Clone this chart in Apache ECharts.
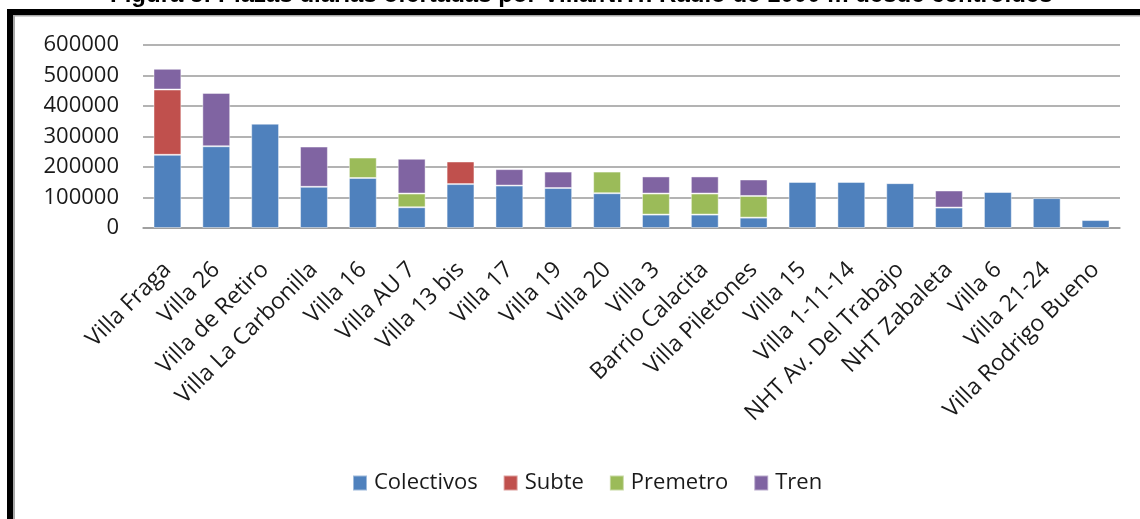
<!DOCTYPE html>
<html>
<head>
<meta charset="utf-8">
<script src="https://cdn.jsdelivr.net/npm/echarts@6/dist/echarts.min.js"></script>
<style>
  html, body { margin: 0; padding: 0; background: #fff; }
  #chart { width: 1140px; height: 519px; }
</style>
</head>
<body>
<div id="chart"></div>
<script>
const titleText = "Figura 5: Plazas diarias ofertadas por Villa/NHT. Radio de 1000 m desde centroides";

const categories = [
  "Villa Fraga", "Villa 26", "Villa de Retiro", "Villa La Carbonilla", "Villa 16",
  "Villa AU 7", "Villa 13 bis", "Villa 17", "Villa 19", "Villa 20",
  "Villa 3", "Barrio Calacita", "Villa Piletones", "Villa 15", "Villa 1-11-14",
  "NHT Av. Del Trabajo", "NHT Zabaleta", "Villa 6", "Villa 21-24", "Villa Rodrigo Bueno"
];

const colectivos = [240000, 268000, 342000, 135000, 164000, 68000, 144000, 139000, 131000, 114000,
  44000, 44000, 34000, 151000, 151000, 147000, 67000, 118000, 98000, 26000];
const subte = [214000, null, null, null, null, null, 74000, null, null, null,
  null, null, null, null, null, null, null, null, null, null];
const premetro = [null, null, null, null, 67000, 45000, null, null, null, 71000,
  69000, 69000, 71000, null, null, null, null, null, null, null];
const tren = [68000, 175000, null, 132000, null, 114000, null, 54000, 54000, null,
  56000, 56000, 54000, null, null, null, 56000, null, null, null];

const yTicks = [0, 100000, 200000, 300000, 400000, 500000, 600000];

const font = "'Open Sans', 'Noto Sans', sans-serif";

let chart = echarts.init(document.getElementById("chart"), null, { renderer: "canvas" });

function barSeries(name, data, color) {
  return {
    name: name,
    type: "bar",
    stack: "total",
    barWidth: "57%",
    data: data,
    itemStyle: {
      color: color,
      borderColor: "rgba(255,255,255,0.45)",
      borderWidth: 1
    },
    animation: false
  };
}

chart.setOption({
  animation: false,
  backgroundColor: "#fff",
  grid: {
    left: 143,
    right: 20,
    top: 45,
    bottom: 291
  },
  legend: {
    left: 352,
    top: 472,
    padding: 0,
    itemWidth: 14,
    itemHeight: 15,
    itemGap: 25,
    icon: "rect",
    textStyle: {
      fontFamily: font,
      fontSize: 22,
      color: "#1a1a1a",
      padding: [0, 0, 0, 2]
    },
    data: ["Colectivos", "Subte", "Premetro", "Tren"]
  },
  xAxis: {
    type: "category",
    data: categories,
    axisLine: { lineStyle: { color: "#9a9a9a", width: 1.5 } },
    axisTick: { show: false },
    axisLabel: {
      rotate: 45,
      margin: 38,
      interval: 0,
      fontFamily: font,
      fontSize: 23,
      color: "#1a1a1a"
    }
  },
  yAxis: {
    type: "value",
    min: yTicks[0],
    max: yTicks[yTicks.length - 1],
    interval: yTicks[1] - yTicks[0],
    axisLine: { show: false },
    axisTick: { show: false },
    splitLine: { lineStyle: { color: "#9a9a9a", width: 1.5 } },
    axisLabel: {
      margin: 24,
      fontFamily: font,
      fontSize: 22,
      color: "#1a1a1a",
      formatter: function (v) { return String(v); }
    }
  },
  series: [
    barSeries("Colectivos", colectivos, "#4F81BD"),
    barSeries("Subte", subte, "#C0504D"),
    barSeries("Premetro", premetro, "#9BBB59"),
    barSeries("Tren", tren, "#8064A2")
  ],
  graphic: [
    {
      type: "text",
      left: 110,
      top: -17,
      style: {
        text: titleText,
        fontFamily: "'Liberation Sans', Arial, sans-serif",
        fontWeight: "bold",
        fontSize: 24,
        fill: "#000"
      }
    },
    // frame: thick black top and left edges with a grey shadow line
    { type: "rect", shape: { x: 7, y: 9, width: 1133, height: 6 }, style: { fill: "#000" } },
    { type: "rect", shape: { x: 13, y: 15, width: 1127, height: 1.5 }, style: { fill: "#a8a8a8" } },
    { type: "rect", shape: { x: 7, y: 9, width: 6, height: 510 }, style: { fill: "#000" } },
    { type: "rect", shape: { x: 13, y: 15, width: 2, height: 504 }, style: { fill: "#a8a8a8" } }
  ]
});
</script>
</body>
</html>
